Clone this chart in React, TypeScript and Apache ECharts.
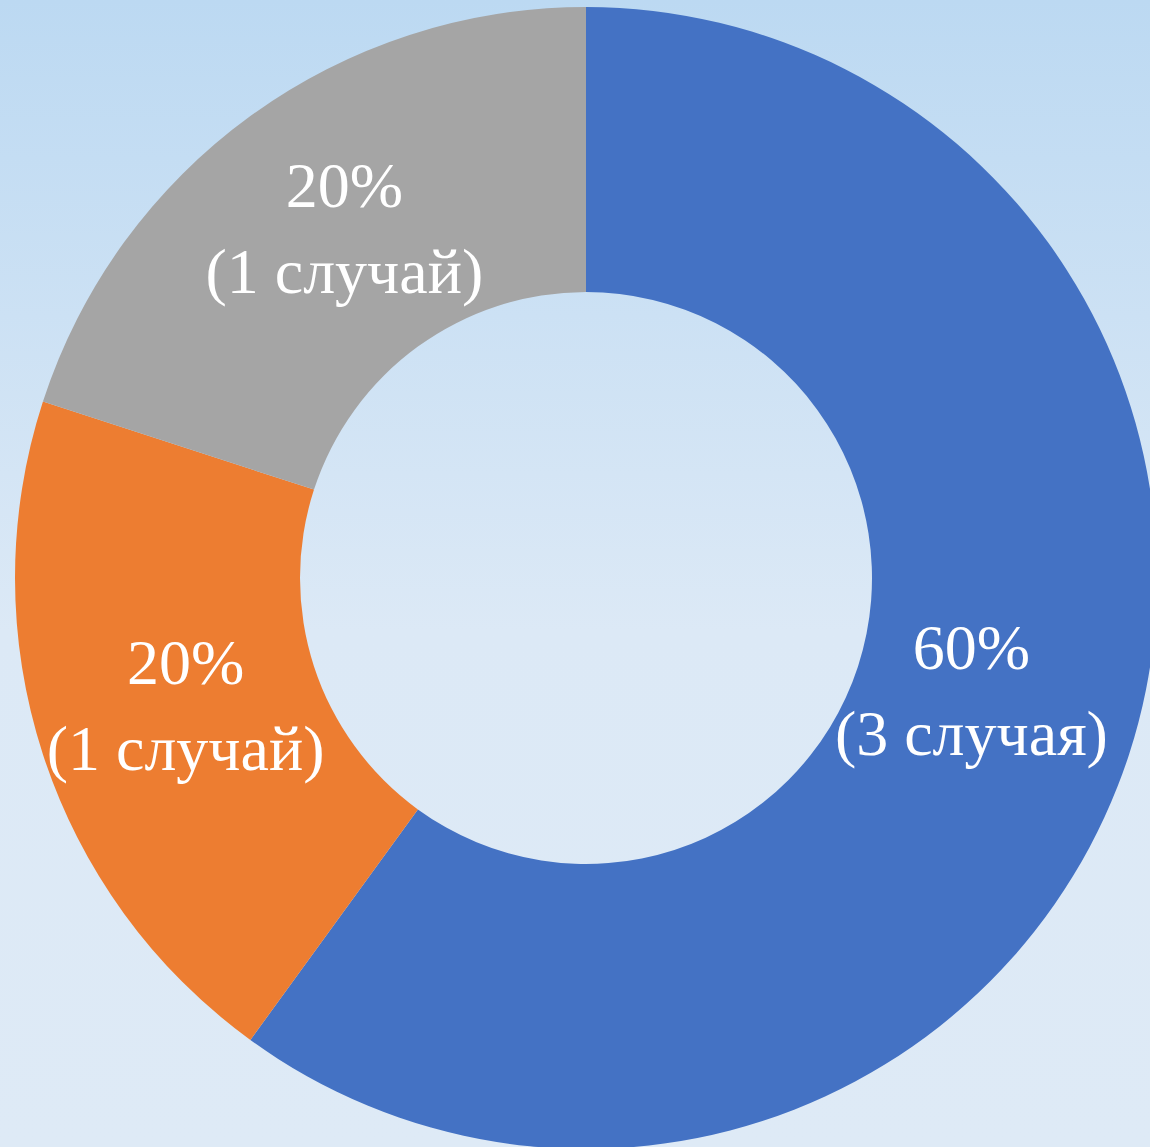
import React, { useEffect, useRef } from "react";
import * as echarts from "echarts";

const categories = ["3 случая", "1 случай", "1 случай"];
const values = [3, 1, 1];
const colors = ["#4472C4", "#ED7D31", "#A5A5A5"];

export default function App() {
  const ref = useRef<HTMLDivElement>(null);
  useEffect(() => {
    const chart = echarts.init(ref.current!, null, { renderer: "svg" });
    const total = values.reduce((a, b) => a + b, 0);
    const pads = [
      [0, 50, 0, 0],
      [0, 0, 0, 20],
      [0, 0, 0, 24],
    ];
    const lift = [42, 12, 0];
    chart.setOption({
      animation: false,
      backgroundColor: {
        type: "linear",
        x: 0,
        y: 0,
        x2: 0,
        y2: 1,
        colorStops: [
          { offset: 0, color: "#BCD9F2" },
          { offset: 0.55, color: "#DCE9F6" },
          { offset: 1, color: "#DEEAF6" },
        ],
      },
      series: [
        {
          type: "pie",
          center: [586, 578],
          radius: [286, 571],
          startAngle: 90,
          clockwise: true,
          silent: true,
          data: values.map((v, i) => ({
            value: v,
            name: categories[i],
            itemStyle: { color: colors[i] },
            label: {
              padding: pads[i],
              rich: {
                t: { fontSize: 64, lineHeight: 86, color: "#FFFFFF", fontFamily: "Liberation Serif" },
                g: { fontSize: 4, lineHeight: lift[i] || 1 },
              },
            },
          })),
          label: {
            show: true,
            position: "inside",
            color: "#FFFFFF",
            fontFamily: "Liberation Serif",
            fontSize: 64,
            lineHeight: 86,
            align: "center",
            formatter: (p: any) => {
              const pct = Math.round((p.value / total) * 100);
              const base = `{t|${pct}%}\n{t|(${p.name})}`;
              return lift[p.dataIndex] ? `${base}\n{g| }` : base;
            },
          },
          labelLine: { show: false },
        },
      ],
    });
    return () => chart.dispose();
  }, []);
  return (
    <div
      ref={ref}
      style={{ position: "fixed", left: 0, top: 0, width: 1150, height: 1147 }}
    />
  );
}
